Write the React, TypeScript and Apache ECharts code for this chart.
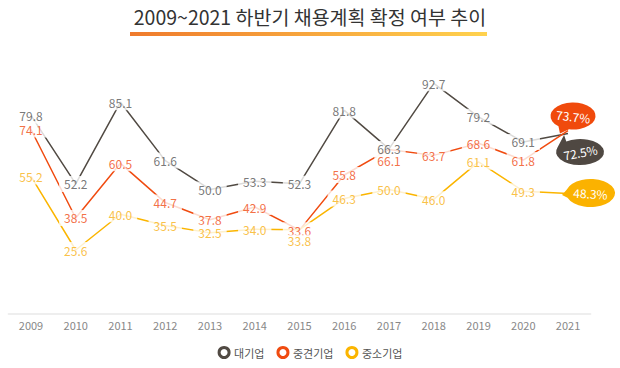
import React, { useEffect, useRef } from "react";
import * as echarts from "echarts";

const years = ["2009", "2010", "2011", "2012", "2013", "2014", "2015", "2016", "2017", "2018", "2019", "2020", "2021"];
const seriesNames = ["대기업", "중견기업", "중소기업"];
const largeCo = [79.8, 52.2, 85.1, 61.6, 50.0, 53.3, 52.3, 81.8, 66.3, 92.7, 79.2, 69.1, 72.5];
const midCo = [74.1, 38.5, 60.5, 44.7, 37.8, 42.9, 33.6, 55.8, 66.1, 63.7, 68.6, 61.8, 73.7];
const smallCo = [55.2, 25.6, 40.0, 35.5, 32.5, 34.0, 33.8, 46.3, 50.0, 46.0, 61.1, 49.3, 48.3];

const FONT = "'Noto Sans CJK KR', 'Noto Sans', sans-serif";
const lineColors = ["#514a43", "#f04b10", "#fbb500"];
const labelColors = ["#555", "#f04b14", "#f8b116"];
const bubbleColors = ["#4f4842", "#f04a0c", "#fbb200"];

// bubble shapes (ellipse + tail)
const bubbleMid = "path://M10 31 L8.5 23.8 A22.5 13.5 0 1 1 19.1 26.8 Z";
const bubbleLarge = "path://M8 0 L10.2 6.4 A24 13 0 1 1 1.4 12.6 Z";
const bubbleSmall = "path://M0 16 L4.8 10.4 A24.5 14 0 1 1 5.5 18.8 Z";

const labelShift: Record<string, number[]> = {
  "1-8": [0, 11],
  "2-6": [0, 11],
};

export default function App() {
  const ref = useRef<HTMLDivElement>(null);
  useEffect(() => {
    if (!ref.current) return;
    const chart = echarts.init(ref.current, null, { renderer: "svg" });
    const all = [largeCo, midCo, smallCo];
    const bubbles = [
      { path: bubbleLarge, size: [48, 30], offset: [12, 16.5], labelOffset: [0, 2], rotate: 10 },
      { path: bubbleMid, size: [45, 31], offset: [5, -12.5], labelOffset: [0, -2], rotate: -7 },
      { path: bubbleSmall, size: [53, 28], offset: [20.5, -0.6], labelOffset: [2, 0], rotate: -3 },
    ];
    const lines = all.map((vals, si) => {
      const last = vals.length - 1;
      return {
        name: seriesNames[si],
        type: "line",
        z: 2,
        showSymbol: false,
        symbol: "none",
        itemStyle: { color: lineColors[si] },
        lineStyle: { color: lineColors[si], width: 1.5 },
        data: vals,
        emphasis: { disabled: true },
        markPoint: {
          z: 20 + si,
          symbol: bubbles[si].path,
          symbolSize: bubbles[si].size,
          symbolOffset: bubbles[si].offset,
          symbolKeepAspect: false,
          itemStyle: { color: bubbleColors[si] },
          label: {
            show: true,
            color: "#fff",
            fontSize: 12,
            fontFamily: FONT,
            rotate: bubbles[si].rotate,
            offset: bubbles[si].labelOffset,
            formatter: (p: any) => `${Number(p.value).toFixed(1)}%`,
          },
          data: [{ coord: [years[last], vals[last]], value: vals[last] }],
        },
      };
    });
    const labels = all.map((vals, si) => {
      const last = vals.length - 1;
      return {
        name: "label-" + si,
        type: "scatter",
        z: 10,
        symbolSize: 1,
        itemStyle: { color: "rgba(0,0,0,0)" },
        emphasis: { disabled: true },
        silent: true,
        data: vals.map((v, i) => {
          const shift = labelShift[`${si}-${i}`];
          const item: any = { value: [years[i], v] };
          if (i === last) item.label = { show: false };
          else if (shift) item.label = { offset: shift, padding: [0, 3] };
          return item;
        }),
        label: {
          show: true,
          position: "inside",
          color: labelColors[si],
          fontSize: 12,
          lineHeight: 12,
          fontFamily: FONT,
          backgroundColor: "#fff",
          padding: [2, 5],
          formatter: (p: any) => Number(p.value[1]).toFixed(1),
        },
      };
    });
    chart.setOption({
      animation: false,
      title: {
        text: "2009~2021 하반기 채용계획 확정 여부 추이",
        left: "center",
        top: 2,
        textStyle: { fontSize: 19.5, fontWeight: "normal", color: "#333", fontFamily: FONT },
      },
      graphic: [
        {
          type: "rect",
          shape: { x: 130, y: 32, width: 357, height: 4 },
          style: {
            fill: new echarts.graphic.LinearGradient(0, 0, 1, 0, [
              { offset: 0, color: "#ef7a2c" },
              { offset: 1, color: "#ffd24e" },
            ]),
          },
        },
      ],
      legend: {
        data: seriesNames.map((n, i) => ({
          name: n,
          itemStyle: { color: "#fff", borderColor: lineColors[i], borderWidth: 3 },
        })),
        top: 341,
        left: "center",
        icon: "circle",
        itemWidth: 10,
        itemHeight: 10,
        itemGap: 12,
        textStyle: { fontSize: 11, color: "#555", fontFamily: FONT },
      },
      grid: { left: 8.6, right: 29.6, top: 65.2, bottom: 54.4 },
      xAxis: {
        type: "category",
        data: years,
        boundaryGap: true,
        axisTick: { show: false },
        axisLine: { lineStyle: { color: "#eeeeee", width: 2 } },
        axisLabel: { color: "#888", fontSize: 11, margin: 6, fontFamily: FONT },
      },
      yAxis: {
        type: "value",
        min: 0,
        max: 100,
        show: false,
        splitLine: { show: false },
      },
      series: [...lines, ...labels],
    });
    return () => chart.dispose();
  }, []);
  return <div ref={ref} style={{ width: 620, height: 368, position: "absolute", left: 0, top: 0 }} />;
}
